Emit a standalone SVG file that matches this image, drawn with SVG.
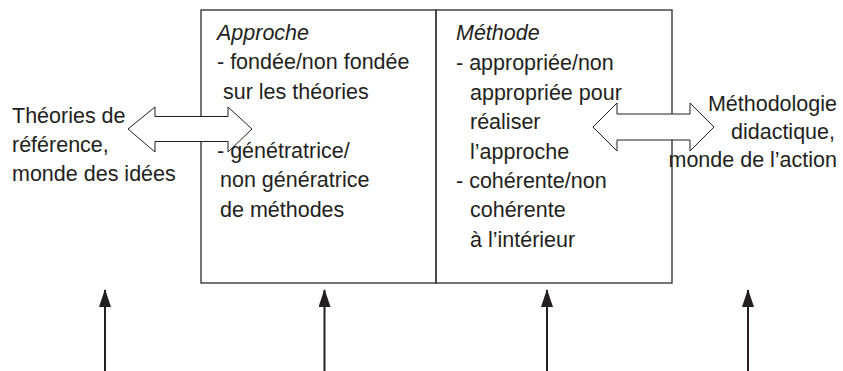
<svg xmlns="http://www.w3.org/2000/svg" width="843" height="371" viewBox="0 0 843 371">
<defs>
<style>
text{font-family:"Liberation Sans",Arial,sans-serif;font-size:21.5px;fill:#231f20}
.it{font-style:italic}
.box{fill:none;stroke:#3a3a3a;stroke-width:1.4}
.dbl{fill:#fff;stroke:#231f20;stroke-width:1}
.up{stroke:#231f20;stroke-width:2;fill:none}
</style>
<marker id="ah" viewBox="0 0 18 12" refX="17" refY="6" markerWidth="18" markerHeight="12" markerUnits="userSpaceOnUse" orient="auto">
<path d="M18 6 L0 0 L0 12 Z" fill="#231f20"/>
</marker>
</defs>
<rect width="843" height="371" fill="#fff"/>
<g id="box-approche">
<rect class="box" x="201" y="10" width="235" height="273"/>
<text x="217" y="40" class="it">Approche</text>
<text x="217" y="69">- fondée/non fondée</text>
<text x="223" y="99">sur les théories</text>
<text x="217" y="158">- génétratrice/</text>
<text x="220" y="187">non génératrice</text>
<text x="220" y="217">de méthodes</text>
</g>
<g id="box-methode">
<rect class="box" x="436" y="10" width="236" height="273"/>
<text x="456" y="40" class="it">Méthode</text>
<text x="456" y="70">- appropriée/non</text>
<text x="470" y="100">appropriée pour</text>
<text x="470" y="129">réaliser</text>
<text x="470" y="159">l’approche</text>
<text x="456" y="188">- cohérente/non</text>
<text x="470" y="217">cohérente</text>
<text x="470" y="247">à l’intérieur</text>
</g>
<g id="theories">
<text x="12" y="123">Théories de</text>
<text x="12" y="152">référence,</text>
<text x="12" y="181">monde des idées</text>
</g>
<g id="methodologie">
<text x="837" y="111" text-anchor="end">Méthodologie</text>
<text x="835" y="139" text-anchor="end">didactique,</text>
<text x="837" y="167" text-anchor="end">monde de l’action</text>
</g>
<g id="connectors">
<path class="dbl" d="M128 129 L155 107 L155 116.5 L228 116.5 L228 107 L252 129 L228 152 L228 141.5 L155 141.5 L155 152 Z"/>
<path class="dbl" d="M593 127 L617 103 L617 114 L690 114 L690 103 L714 127 L690 151 L690 140 L617 140 L617 151 Z"/>
<line class="up" x1="105" y1="371" x2="105" y2="290" marker-end="url(#ah)"/>
<line class="up" x1="324.5" y1="371" x2="324.5" y2="290" marker-end="url(#ah)"/>
<line class="up" x1="547" y1="371" x2="547" y2="290" marker-end="url(#ah)"/>
<line class="up" x1="748" y1="371" x2="748" y2="290" marker-end="url(#ah)"/>
</g>
</svg>
